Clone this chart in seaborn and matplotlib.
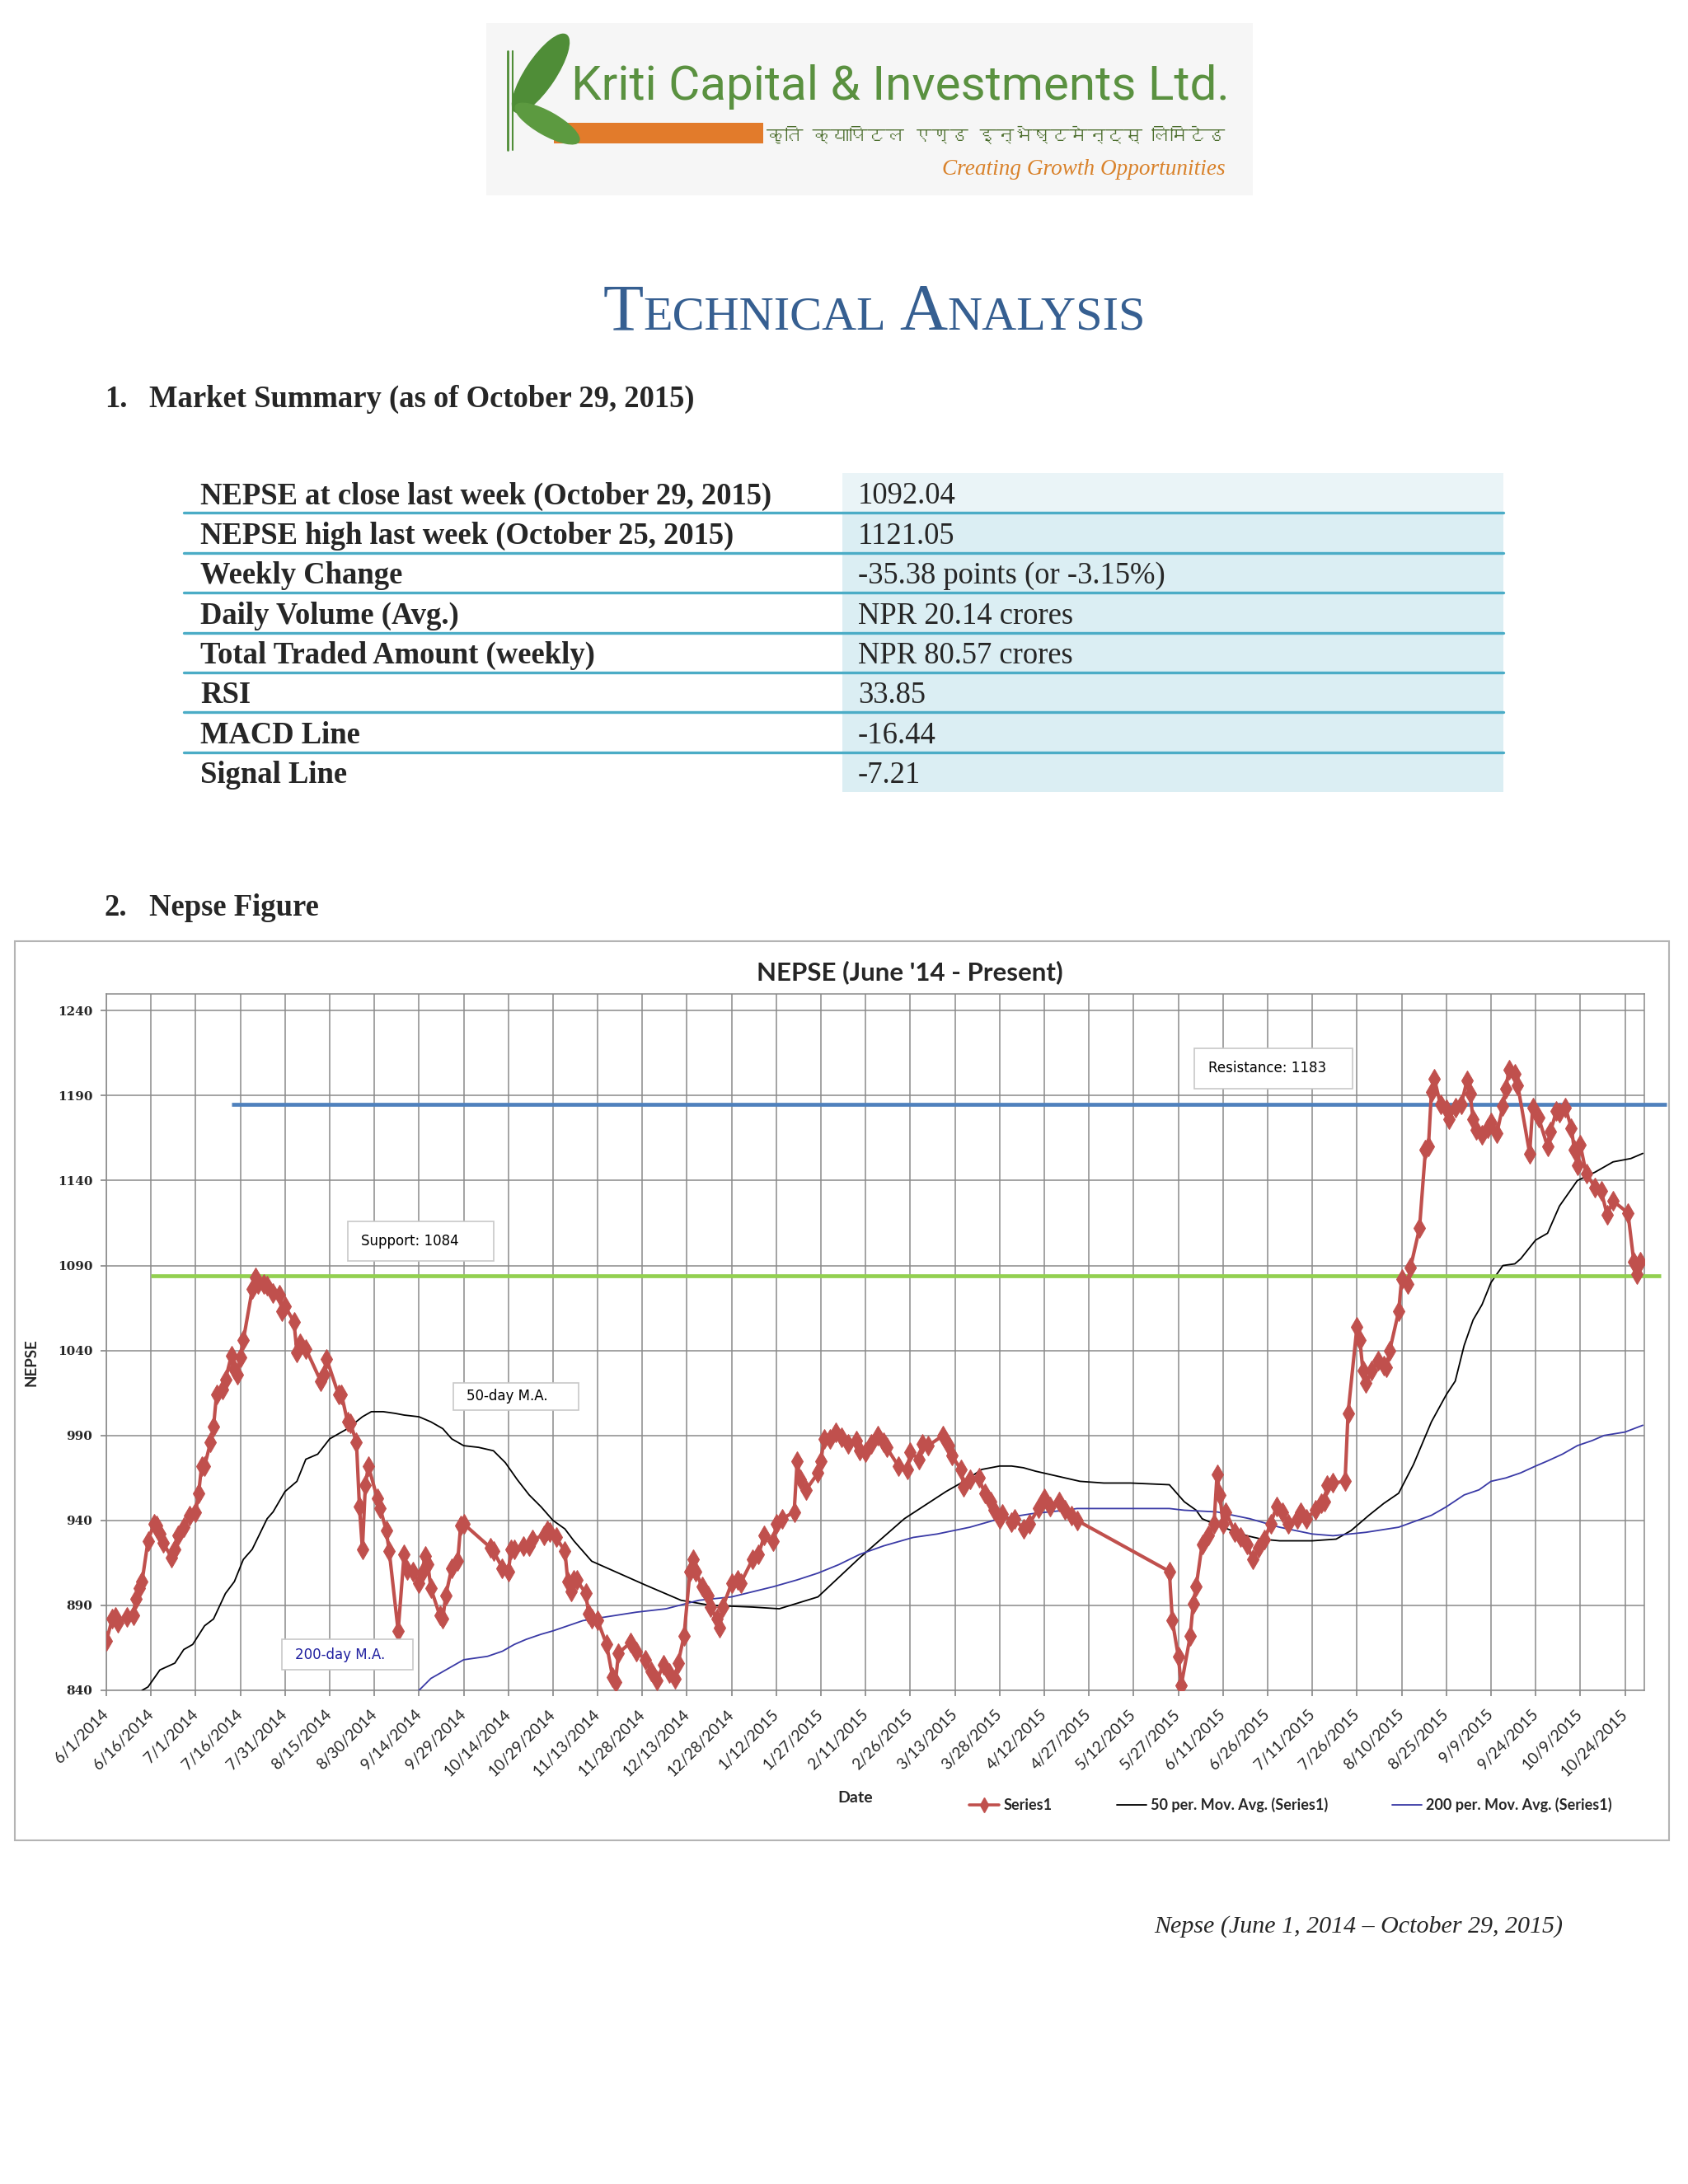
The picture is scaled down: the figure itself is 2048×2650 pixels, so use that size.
import matplotlib
matplotlib.use("Agg")
import pandas as pd
import matplotlib.pyplot as plt
from matplotlib import font_manager
from matplotlib.ft2font import FT2Font
from matplotlib.lines import Line2D
from matplotlib.patches import Rectangle, Ellipse
import matplotlib.dates as mdates
import seaborn as sns

# ---- data ----
START = pd.Timestamp("2014-06-01")

# NEPSE close, as days after 1 June 2014
nepse_day = [0, 2, 3, 4, 7, 9, 10, 11, 12, 14, 16, 17,
             18, 19, 22, 23, 24, 26, 28, 30, 31, 32, 33, 35,
             36, 37, 39, 40, 42, 43, 44, 45, 46, 49, 50, 51,
             53, 54, 56, 58, 59, 60, 63, 64, 65, 67, 72, 73,
             74, 78, 79, 81, 82, 84, 85, 86, 87, 88, 91, 92,
             94, 95, 98, 100, 101, 103, 105, 106, 107, 108, 109, 112,
             113, 114, 116, 118, 119, 120, 129, 130, 133, 135, 136, 137,
             140, 142, 143, 147, 148, 149, 151, 154, 155, 156, 157, 158,
             161, 162, 163, 165, 168, 170, 171, 172, 176, 178, 181, 183,
             185, 187, 189, 191, 192, 194, 196, 197, 198, 200, 202, 203,
             205, 206, 207, 210, 212, 213, 217, 219, 221, 224, 225, 227,
             231, 232, 233, 235, 239, 240, 241, 243, 245, 247, 249, 252,
             253, 255, 257, 259, 261, 262, 266, 269, 270, 273, 274, 276,
             281, 283, 284, 287, 288, 290, 293, 295, 297, 298, 300, 301,
             304, 305, 308, 310, 313, 315, 317, 320, 322, 324, 326, 357,
             358, 360, 361, 364, 365, 366, 368, 370, 372, 373, 374, 375,
             376, 379, 381, 383, 385, 387, 389, 391, 393, 395, 397, 400,
             401, 403, 406, 408, 409, 410, 412, 416, 417, 420, 421, 422,
             423, 425, 427, 429, 430, 431, 434, 435, 437, 438, 441, 443,
             444, 445, 446, 448, 450, 451, 453, 455, 457, 458, 459, 460,
             462, 464, 465, 467, 469, 470, 471, 473, 474, 478, 479, 481,
             484, 485, 487, 488, 490, 492, 493, 494, 495, 497, 500, 502,
             504, 506, 511, 513, 514, 515]
nepse_val = [869, 882, 883, 880, 883, 884, 894, 900, 904, 928, 938, 937,
             932, 927, 918, 923, 931, 936, 943, 945, 956, 972, 972, 986,
             995, 1014, 1017, 1023, 1037, 1029, 1026, 1036, 1046, 1076, 1083, 1079,
             1079, 1078, 1074, 1073, 1063, 1066, 1057, 1039, 1044, 1041, 1022, 1026,
             1035, 1014, 1014, 998, 997, 986, 948, 923, 961, 972, 953, 947,
             934, 922, 875, 920, 911, 910, 903, 909, 919, 914, 900, 884,
             882, 896, 912, 916, 937, 938, 924, 922, 912, 910, 923, 923,
             925, 925, 929, 931, 934, 933, 930, 922, 904, 898, 905, 905,
             897, 885, 882, 881, 867, 848, 845, 862, 868, 863, 858, 851,
             846, 855, 850, 847, 856, 872, 910, 917, 910, 901, 896, 889,
             882, 877, 889, 903, 905, 903, 917, 920, 931, 928, 938, 941,
             945, 975, 964, 958, 968, 975, 988, 988, 992, 989, 985, 987,
             981, 980, 985, 990, 986, 983, 972, 970, 980, 976, 985, 984,
             990, 984, 978, 970, 960, 964, 965, 956, 951, 946, 941, 944,
             939, 941, 935, 938, 947, 953, 948, 951, 946, 943, 940, 910,
             881, 860, 843, 872, 891, 901, 926, 931, 938, 967, 955, 938,
             945, 933, 930, 926, 917, 924, 929, 938, 948, 945, 938, 941,
             945, 941, 946, 950, 951, 961, 962, 963, 1003, 1054, 1046, 1028,
             1021, 1028, 1034, 1031, 1030, 1040, 1063, 1082, 1079, 1089, 1112, 1158,
             1160, 1192, 1200, 1185, 1182, 1176, 1183, 1185, 1199, 1191, 1176, 1170,
             1167, 1171, 1174, 1168, 1184, 1194, 1205, 1203, 1196, 1156, 1183, 1177,
             1160, 1169, 1181, 1180, 1183, 1171, 1158, 1149, 1161, 1144, 1136, 1134,
             1120, 1128, 1121, 1092, 1085, 1092]

# Excel trendlines (50 / 200 period moving averages)
ma50_day = [10, 12, 14, 18, 23, 26, 29, 33, 36, 40, 43, 46, 49, 54, 56, 60, 64, 67,
            71, 75, 78, 81, 86, 89, 93, 97, 100, 105, 109, 113, 116, 120, 125, 130,
            134, 138, 142, 146, 150, 154, 157, 161, 163, 181, 193, 203, 217, 226, 239,
            253, 268, 282, 288, 294, 300, 304, 308, 312, 317, 322, 327, 335, 344, 357,
            362, 366, 368, 372, 378, 383, 388, 394, 405, 413, 418, 424, 429, 434, 439,
            445, 450, 453, 456, 459, 462, 465, 469, 473, 475, 480, 484, 488, 494, 500,
            506, 512, 516]
ma50_val = [835, 840, 842, 852, 856, 864, 867, 878, 882, 897, 904, 917, 923, 941, 945, 957,
            963, 976, 979, 988, 991, 994, 1001, 1004, 1004, 1003, 1002, 1001, 998, 994,
            988, 984, 983, 981, 974, 964, 955, 948, 940, 935, 928, 920, 916, 902, 893, 890,
            889, 888, 895, 918, 941, 957, 963, 970, 972, 972, 971, 969, 967, 965, 963, 962,
            962, 961, 951, 946, 941, 938, 934, 931, 929, 928, 928, 929, 934, 943, 950, 956,
            973, 998, 1014, 1022, 1043, 1058, 1067, 1080, 1090, 1091, 1094, 1105, 1109,
            1125, 1140, 1145, 1151, 1153, 1156]
ma200_day = [104, 105, 109, 113, 117, 120, 128, 133, 137, 141, 146, 150, 155, 160, 167,
             178, 188, 199, 210, 217, 224, 232, 239, 246, 253, 261, 271, 279, 290, 300,
             311, 322, 326, 357, 362, 373, 384, 394, 405, 412, 423, 434, 445, 450, 456,
             461, 465, 470, 475, 480, 484, 489, 494, 499, 503, 510, 516]
ma200_val = [838, 840, 847, 851, 855, 858, 860, 863, 867, 870, 873, 875, 878, 881, 883,
             886, 888, 893, 895, 898, 901, 905, 909, 914, 920, 925, 930, 932, 936, 941,
             944, 946, 947, 947, 946, 945, 941, 936, 932, 931, 933, 936, 943, 948, 955,
             958, 963, 965, 968, 972, 975, 979, 984, 987, 990, 992, 996]

support_level = 1084
resistance_level = 1185
support_span = ["2014-06-16", "2015-11-05"]
resistance_span = ["2014-07-13", "2015-11-07"]

date_ticks = ["6/1/2014", "6/16/2014", "7/1/2014", "7/16/2014", "7/31/2014", "8/15/2014",
              "8/30/2014", "9/14/2014", "9/29/2014", "10/14/2014", "10/29/2014",
              "11/13/2014", "11/28/2014", "12/13/2014", "12/28/2014", "1/12/2015",
              "1/27/2015", "2/11/2015", "2/26/2015", "3/13/2015", "3/28/2015",
              "4/12/2015", "4/27/2015", "5/12/2015", "5/27/2015", "6/11/2015",
              "6/26/2015", "7/11/2015", "7/26/2015", "8/10/2015", "8/25/2015",
              "9/9/2015", "9/24/2015", "10/9/2015", "10/24/2015"]
y_ticks = [840, 890, 940, 990, 1040, 1090, 1140, 1190, 1240]
legend_labels = ["Series1", "50 per. Mov. Avg. (Series1)", "200 per. Mov. Avg. (Series1)"]

summary_labels = ["NEPSE at close last week (October 29, 2015)",
                  "NEPSE high last week (October 25, 2015)",
                  "Weekly Change", "Daily Volume (Avg.)",
                  "Total Traded Amount (weekly)", "RSI", "MACD Line", "Signal Line"]
summary_values = ["1092.04", "1121.05", "-35.38 points (or -3.15%)", "NPR 20.14 crores",
                  "NPR 80.57 crores", "33.85", "-16.44", "-7.21"]

RED = "#c0504d"
MA200_BLUE = "#3a3aa6"
TITLE_BLUE = "#365f91"
TEAL = "#4bacc6"

sns.set_theme(style="white")
plt.rcParams["font.family"] = ["DejaVu Sans"]

installed = {f.name for f in font_manager.fontManager.ttflist}


def pick(*names):
    for n in names:
        if n in installed:
            return n
    return "DejaVu Sans"


def find_devanagari():
    for f in font_manager.fontManager.ttflist:
        if "CJK" in f.name:
            continue
        try:
            if 0x0915 in FT2Font(f.fname).get_charmap():
                return f.name
        except Exception:
            pass
    return None


SERIF = pick("Liberation Serif", "DejaVu Serif")
CALIBRI = pick("Lato", "Open Sans")
NARROW = pick("Liberation Sans Narrow", "Roboto", "Open Sans")
DEVA = find_devanagari() or "DejaVu Sans"

fig = plt.figure(figsize=(20.48, 26.5), dpi=100)
renderer = fig.canvas.get_renderer()
page = fig.add_axes([0, 0, 1, 1])
page.set_xlim(0, 2048)
page.set_ylim(2650, 0)
page.axis("off")


def fit(t, width):
    w = t.get_window_extent(renderer).width
    t.set_fontsize(t.get_fontsize() * width / w)


# logo
page.add_patch(Rectangle((590, 28), 930, 209, facecolor="#f6f6f6", edgecolor="none"))
page.add_patch(Rectangle((672, 149), 254, 25, facecolor="#e27b2b", edgecolor="none"))
page.plot([616, 616], [62, 182], color="#4f8d37", lw=2)
page.plot([622, 622], [62, 182], color="#4f8d37", lw=1.5)
page.add_patch(Ellipse((656, 89), 36, 112, angle=33.7, color="#4f8d37"))
page.add_patch(Ellipse((664, 150), 28, 88, angle=-60.6, color="#5c9a40"))
t = page.text(693, 121, "Kriti Capital & Investments Ltd.", fontsize=42, family=NARROW,
              color="#5a9140", va="baseline")
fit(t, 799)
t = page.text(930, 172, "कृति क्यापिटल एण्ड इन्भेष्टमेन्ट्स् लिमिटेड", fontsize=20,
              family=DEVA, color="#4b6d2c", va="baseline")
fit(t, 556)
t = page.text(1143, 212, "Creating Growth Opportunities", fontsize=20, family=SERIF,
              style="italic", color="#d9822b", va="baseline")
fit(t, 343)

# title in small caps
pieces = []
for s, size in [("T", 58), ("ECHNICAL", 42), ("A", 58), ("NALYSIS", 42)]:
    pieces.append(page.text(0, 400, s, fontsize=size, family=SERIF, color=TITLE_BLUE,
                            va="baseline"))
widths = [p.get_window_extent(renderer).width for p in pieces]
gap = 16
x = 1061 - (sum(widths) + gap) / 2
for i, (p, w) in enumerate(zip(pieces, widths)):
    p.set_x(x)
    x += w + (gap if i == 1 else 0)

head = dict(fontsize=26.4, fontweight="bold", family=SERIF, va="baseline")
page.text(127, 494, "1.", **head)
page.text(181, 494, "Market Summary (as of October 29, 2015)", **head)

# summary table
row_top, row_h = 574, 48.4
for i, (lab, val) in enumerate(zip(summary_labels, summary_values)):
    top = row_top + i * row_h
    fill = "#eaf4f7" if i == 0 else "#dbeef3"
    page.add_patch(Rectangle((1022, top), 802, row_h, facecolor=fill, edgecolor="none"))
    page.text(243, top + row_h - 11, lab, fontsize=26.4, fontweight="bold", family=SERIF,
              va="baseline")
    page.text(1041, top + row_h - 11, val, fontsize=26.4, family=SERIF, va="baseline")
    if i < len(summary_labels) - 1:
        page.plot([223, 1824], [top + row_h] * 2, color=TEAL, lw=2.4)

page.text(127, 1111, "2.", **head)
page.text(181, 1111, "Nepse Figure", **head)

# chart frame and captions
page.add_patch(Rectangle((18, 1142), 2007, 1091, fill=False, edgecolor="#b4b4b4", lw=1.5))
page.text(1104, 1189, "NEPSE (June '14 - Present)", ha="center", va="baseline",
          fontsize=22.5, fontweight="bold", family=CALIBRI)
page.text(1038, 2187, "Date", ha="center", va="baseline", fontsize=14,
          fontweight="bold", family=CALIBRI)
t = page.text(1400, 2345, "Nepse (June 1, 2014 \u2013 October 29, 2015)", fontsize=22,
              family=SERIF, style="italic", va="baseline")
fit(t, 494)

# ---- chart ----
ax = fig.add_axes([129 / 2048, 1 - 2051 / 2650, 1866 / 2048, 845.3 / 2650])
ax.set_facecolor("white")

nepse = pd.DataFrame({"date": START + pd.to_timedelta(nepse_day, unit="D"),
                      "close": nepse_val})
ma50 = pd.DataFrame({"date": START + pd.to_timedelta(ma50_day, unit="D"), "ma": ma50_val})
ma200 = pd.DataFrame({"date": START + pd.to_timedelta(ma200_day, unit="D"), "ma": ma200_val})

sns.lineplot(data=ma50, x="date", y="ma", ax=ax, color="black", linewidth=1.3, zorder=3)
sns.lineplot(data=ma200, x="date", y="ma", ax=ax, color=MA200_BLUE, linewidth=1.3, zorder=3)
ax.plot(pd.to_datetime(support_span), [support_level] * 2, color="#92d050", lw=3.4,
        clip_on=False, zorder=4, solid_capstyle="butt")
ax.plot(pd.to_datetime(resistance_span), [resistance_level] * 2, color="#4f81bd", lw=3.4,
        clip_on=False, zorder=4, solid_capstyle="butt")
sns.lineplot(data=nepse, x="date", y="close", ax=ax, color=RED, linewidth=3.0, marker="d",
             markersize=12, markeredgecolor=RED, zorder=5)


def note(d0, d1, v0, v1, text, color="black"):
    x0 = mdates.date2num(START + pd.Timedelta(days=d0))
    ax.add_patch(Rectangle((x0, v0), d1 - d0, v1 - v0, facecolor="white",
                           edgecolor="#c8c8c8", lw=1.2, zorder=6))
    ax.text(x0 + 4.5, (v0 + v1) / 2, text, va="center", ha="left", fontsize=12,
            color=color, zorder=7)


note(81, 130, 1092.5, 1116, "Support: 1084")
note(116.5, 158.5, 1005, 1021, "50-day M.A.")
note(59, 103, 852, 870, "200-day M.A.", color="#2020a0")
note(365.5, 418.5, 1194, 1218, "Resistance: 1183")

ax.set_xlim(START, START + pd.Timedelta(days=516.5))
ax.set_ylim(840, 1250)
ax.set_yticks(y_ticks)
ax.set_yticklabels([str(v) for v in y_ticks], fontsize=11, fontweight="bold",
                   family="DejaVu Serif")
ax.set_xticks(pd.to_datetime(date_ticks, format="%m/%d/%Y"))
ax.set_xticklabels(date_ticks, rotation=45, ha="right", va="center",
                   rotation_mode="anchor", fontsize=13.8, family=CALIBRI)
ax.grid(True, color="#8a8a8a", linewidth=1.1)
ax.set_axisbelow(True)
for s in ax.spines.values():
    s.set_color("#8a8a8a")
    s.set_linewidth(1.1)
ax.tick_params(axis="both", bottom=True, left=True, length=5, color="#8a8a8a",
               direction="out")
ax.tick_params(axis="y", pad=7)
ax.tick_params(axis="x", pad=14)
ax.set_xlabel("")
ax.set_ylabel("NEPSE", fontsize=13.5, fontweight="bold", family=CALIBRI)
ax.yaxis.set_label_coords(-0.044, 0.471)

handles = [Line2D([], [], color=RED, lw=2.6, marker="d", markersize=9),
           Line2D([], [], color="black", lw=1.3),
           Line2D([], [], color=MA200_BLUE, lw=1.3)]
ax.legend(handles, legend_labels, loc="center left",
          bbox_to_anchor=(1160 / 2048, 1 - 2190 / 2650), bbox_transform=fig.transFigure,
          ncol=3, frameon=False, handlelength=2.0, handletextpad=0.3, columnspacing=4.3,
          prop={"family": CALIBRI, "size": 13, "weight": "bold"})

fig.savefig("out.png", dpi=100, facecolor="white")
